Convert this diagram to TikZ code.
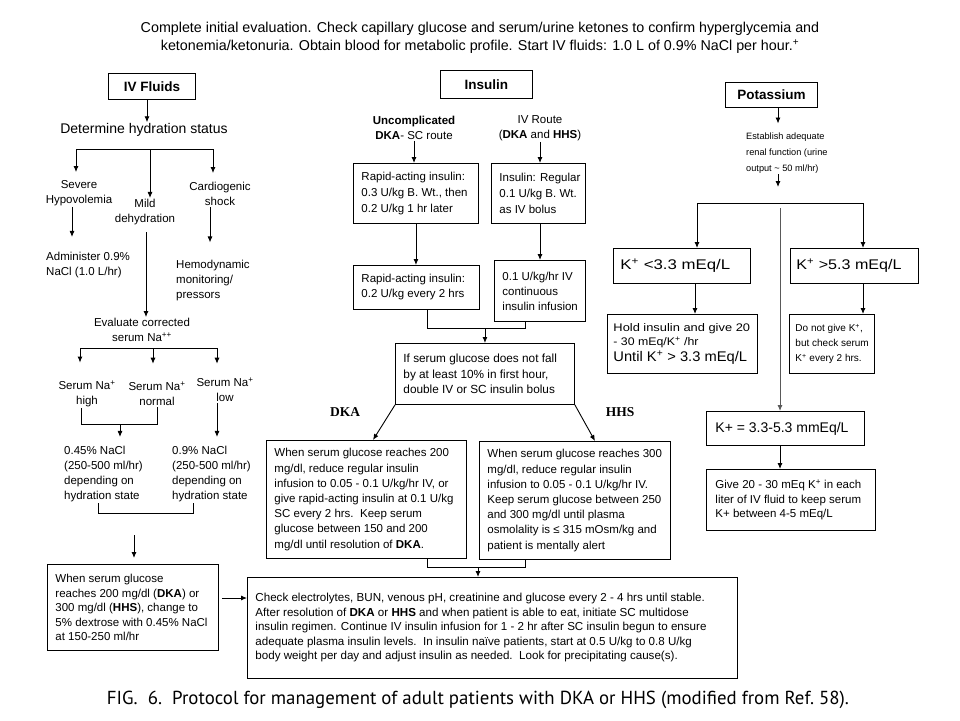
\documentclass[tikz,border=0pt]{standalone}
\usepackage{graphicx}
\usepackage{fontspec}
\setmainfont{Liberation Sans}
\newfontfamily\serifb{Liberation Serif}
\newfontfamily\capfont{PT Sans}
\usetikzlibrary{arrows.meta}
\newcommand\bfs{\fontsize{11.5}{15}\selectfont}
\newcommand\bfsb{\fontsize{11.5}{16}\selectfont}
\newcommand\supplus{\textsuperscript{+}}
\newcommand\wl[2]{\makebox[#1pt][l]{#2}}
\begin{document}
\begin{tikzpicture}[x=1pt,y=-1pt,
 box/.style={draw, line width=0.9pt, anchor=north west, inner xsep=8pt, inner ysep=2pt, align=left, font=\bfs},
 hdr/.style={draw, line width=0.9pt, anchor=north west, inner sep=2pt, align=center, font=\fontsize{13.5}{16}\selectfont\bfseries},
 lbl/.style={inner sep=1pt, align=center, font=\bfs},
 ln/.style={line width=0.9pt},
 arr/.style={ln, -{Latex[length=6pt,width=5pt]}},
]
\fill[white] (0,0) rectangle (960,720);
\useasboundingbox (0,0) rectangle (960,720);

% header
\node[font=\fontsize{14.3}{18}\selectfont, align=center, inner sep=0pt] (head) at (480,38)
 {Complete initial evaluation. Check capillary glucose and serum/urine ketones to confirm hyperglycemia and\\
  ketonemia/ketonuria. Obtain blood for metabolic profile. Start IV fluids: 1.0 L of 0.9\% NaCl per hour.\supplus};

% column headers
\node[hdr, minimum width=87, minimum height=26] (ivf) at (108,73) {IV Fluids};
\node[hdr, minimum width=92, minimum height=28] (ins) at (440,70) {Insulin};
\node[hdr, minimum width=92, minimum height=25] (pot) at (725,82) {Potassium};

% ---------------- IV fluids column
\node[lbl, font=\fontsize{14}{17}\selectfont] (det) at (144,130) {Determine hydration status};
\coordinate (ia) at (147,0);
\draw[arr] (ivf.south -| ia) -- (det.north -| ia);
\coordinate (hb1) at (76,149); \coordinate (hb2) at (213,149); \coordinate (hbm) at (150,149);
\draw[ln] (hb1) -- (hb2);
\node[lbl] (sev) at (79,193) {Severe\\Hypovolemia};
\node[lbl] (mild) at (145,212) {Mild\\dehydration};
\node[lbl] (card) at (220,194) {Cardiogenic\\shock};
\draw[arr, shorten >=7pt] (hb1) -- (hb1 |- sev.north);
\draw[arr] (hbm) -- (hbm |- mild.north);
\draw[arr, shorten >=8pt] (hb2) -- (hb2 |- card.north);

\node[lbl, align=left, anchor=west] (adm) at (45,265) {Administer 0.9\%\\NaCl (1.0 L/hr)};
\node[lbl, align=left, anchor=west] (hemo) at (175,281) {Hemodynamic\\monitoring/\\pressors};
\coordinate (sa) at (72,0); \coordinate (ca) at (210,0); \coordinate (ma) at (146,0);
\draw[arr, shorten >=14pt] (sev.south -| sa) -- (adm.north -| sa);
\draw[arr, shorten >=17pt] (card.south -| ca) -- (hemo.north -| ca);

\node[lbl] (eval) at (142,330) {Evaluate corrected\\serum Na\textsuperscript{++}};
\draw[arr, shorten <=6pt] (mild.south -| ma) -- (eval.north -| ma);

\coordinate (nb1) at (80,348); \coordinate (nb2) at (217,348); \coordinate (nbm) at (153,348);
\draw[ln] (nb1) -- (nb2);
\node[lbl] (nah) at (87,394) {Serum Na\supplus\\high};
\node[lbl] (nan) at (157,394) {Serum Na\supplus\\normal};
\node[lbl] (nal) at (225,390) {Serum Na\supplus\\low};
\draw[arr, shorten >=17pt] (nb1) -- (nb1 |- nah.north);
\draw[arr, shorten >=17pt] (nbm) -- (nbm |- nan.north);
\draw[arr, shorten >=13pt] (nb2) -- (nb2 |- nal.north);

\node[lbl, align=left, anchor=west] (n045) at (63,474) {0.45\% NaCl\\(250-500 ml/hr)\\depending on\\hydration state};
\node[lbl, align=left, anchor=west] (n09) at (171,474) {0.9\% NaCl\\(250-500 ml/hr)\\depending on\\hydration state};
\coordinate (k1) at (81,424); \coordinate (k2) at (157,424); \coordinate (k3) at (120,424);
\draw[ln] (k1 |- nah.south) -- (k1) -- (k2) -- (k2 |- nan.south);
\draw[arr, shorten >=8pt] (k3) -- (k3 |- n045.north);
\draw[arr, shorten >=8pt] (nal.south -| nb2) -- (n09.north -| nb2);
\coordinate (m1) at (98,513); \coordinate (m2) at (193,513);
\draw[ln] (m1 |- n045.south) -- (m1) -- (m2) -- (m2 |- n09.south);

\node[box, font=\fontsize{11.5}{14.5}\selectfont, minimum height=86] (leftbot) at (47,564)
 {\wl{155}{When serum glucose}\\reaches 200 mg/dl (\textbf{DKA}) or\\300 mg/dl (\textbf{HHS}), change to\\5\% dextrose with 0.45\% NaCl\\at 150-250 ml/hr};
\coordinate (q) at (134,535);
\draw[arr, shorten >=6pt] (q) -- (q |- leftbot.north);

% ---------------- Insulin column
\node[lbl] (unc) at (414,128) {\textbf{Uncomplicated}\\\textbf{DKA}- SC route};
\node[lbl] (ivr) at (540,128) {IV Route\\(\textbf{DKA} and \textbf{HHS})};
\node[box, font=\bfsb, minimum height=60] (rapid1) at (353,163)
 {\wl{109}{Rapid-acting insulin:}\\0.3 U/kg B. Wt., then\\0.2 U/kg 1 hr later};
\node[box, font=\bfsb, minimum height=60] (reg) at (491,163)
 {\wl{78}{Insulin: Regular}\\0.1 U/kg B. Wt.\\as IV bolus};
\node[box, font=\bfs, minimum height=44] (rapid2) at (353,265)
 {\wl{110}{Rapid-acting insulin:}\\0.2 U/kg every 2 hrs};
\node[box, font=\bfs, minimum height=61] (cont) at (494,260)
 {\wl{74}{0.1 U/kg/hr IV}\\continuous\\insulin infusion};
\draw[arr] (unc.south) -- (unc.south |- rapid1.north);
\draw[arr] (rapid1.south) -- (rapid1.south |- rapid2.north);
\draw[arr] (ivr.south) -- (ivr.south |- reg.north);
\draw[arr] (reg.south -| ivr.south) -- (cont.north -| ivr.south);

\node[box, font=\fontsize{11.8}{15.5}\selectfont, minimum height=61] (ifbox) at (395,343)
 {\wl{163}{If serum glucose does not fall}\\by at least 10\% in first hour,\\double IV or SC insulin bolus};
\coordinate (g1) at (427,328); \coordinate (g2) at (525,328);
\draw[ln] (g1 |- rapid2.south) -- (g1) -- (g2) -- (g2 |- cont.south);
\draw[arr] (ifbox.north |- g1) -- (ifbox.north);

\node[font=\serifb\fontsize{13.5}{16}\selectfont\bfseries] (ldka) at (345,412) {DKA};
\node[font=\serifb\fontsize{13.5}{16}\selectfont\bfseries] (lhhs) at (620,412) {HHS};

\node[box, font=\fontsize{11.5}{15.2}\selectfont, minimum height=118] (dka) at (266,440)
 {\wl{184}{When serum glucose reaches 200}\\mg/dl, reduce regular insulin\\infusion to 0.05 - 0.1 U/kg/hr IV, or\\give rapid-acting insulin at 0.1 U/kg\\SC every 2 hrs.\ \ Keep serum\\glucose between 150 and 200\\mg/dl until resolution of \textbf{DKA}.};
\node[box, font=\fontsize{11.5}{15.2}\selectfont, minimum height=118] (hhs) at (479,441)
 {\wl{175}{When serum glucose reaches 300}\\mg/dl, reduce regular insulin\\infusion to 0.05 - 0.1 U/kg/hr IV.\\Keep serum glucose between 250\\and 300 mg/dl until plasma\\osmolality is ≤ 315 mOsm/kg and\\patient is mentally alert};
\coordinate (d2) at (373,0); \coordinate (h2) at (595,0);
\draw[arr] (ifbox.south west) -- (dka.north -| d2);
\draw[arr] (ifbox.south east) -- (hhs.north -| h2);

\node[box, font=\fontsize{11.6}{14.5}\selectfont, minimum height=101] (bot) at (247,577)
 {\wl{474}{Check electrolytes, BUN, venous pH, creatinine and glucose every 2 - 4 hrs until stable.}\\
  After resolution of \textbf{DKA} or \textbf{HHS} and when patient is able to eat, initiate SC multidose\\
  insulin regimen. Continue IV insulin infusion for 1 - 2 hr after SC insulin begun to ensure\\
  adequate plasma insulin levels.\ \ In insulin naïve patients, start at 0.5 U/kg to 0.8 U/kg\\
  body weight per day and adjust insulin as needed.\ \ Look for precipitating cause(s).};
\coordinate (e1) at (427,567); \coordinate (e2) at (525,567); \coordinate (e3) at (478,567);
\draw[ln] (e1 |- dka.south) -- (e1) -- (e2) -- (e2 |- hhs.south);
\draw[arr] (e3) -- (e3 |- bot.north);
\coordinate (f) at (0,598);
\draw[arr, shorten <=3pt] (leftbot.east |- f) -- (bot.west |- f);

% ---------------- Potassium column
\node[lbl, align=left, anchor=west, font=\fontsize{9.2}{16}\selectfont] (est) at (745,153)
 {Establish adequate\\renal function (urine\\output \textasciitilde\ 50 ml/hr)};
\coordinate (pa) at (778,0); \coordinate (pe) at (778,187);
\draw[arr, shorten >=8pt] (pot.south -| pa) -- (est.north -| pa);
\draw[arr] (est.south -| pe) -- (pe);
\coordinate (pb1) at (697,203); \coordinate (pb2) at (863,203); \coordinate (pm) at (780,208);
\draw[ln] (pb1) -- (pb2);

\node[box, font=\fontsize{14}{16}\selectfont, inner xsep=7pt, minimum height=35] (kl) at (613,248)
 {\wl{123}{\scalebox{1.2}[1]{K\supplus\ <3.3 mEq/L}}};
\node[box, font=\fontsize{14}{16}\selectfont, inner xsep=6pt, minimum height=35] (kh) at (790,248)
 {\wl{116}{\scalebox{1.15}[1]{K\supplus\ >5.3 mEq/L}}};
\draw[arr] (pb1) -- (pb1 |- kl.north);
\draw[arr] (pb2) -- (pb2 |- kh.north);

\node[box, font=\fontsize{11}{14}\selectfont, inner xsep=6pt, minimum height=59] (hold) at (607,314)
 {\wl{138}{\scalebox{1.17}[1]{Hold insulin and give 20}}\\\scalebox{1.12}[1]{- 30 mEq/K\supplus\ /hr}\\[1.5pt]{\fontsize{14}{14}\selectfont\scalebox{1.05}[1]{Until K\supplus\ > 3.3 mEq/L}}};
\node[box, font=\fontsize{10}{15}\selectfont, inner xsep=6pt, minimum height=59] (dng) at (789,314)
 {\wl{71}{Do not give K\supplus,}\\but check serum\\K\supplus\ every 2 hrs.};
\coordinate (c1) at (695,0);
\draw[arr] (kl.south -| c1) -- (hold.north -| c1);
\draw[arr] (kh.south -| pb2) -- (dng.north -| pb2);

\node[box, font=\fontsize{14}{16}\selectfont, inner xsep=9pt, minimum height=34] (kmid) at (706,411)
 {\wl{140}{K+ = 3.3-5.3 mmEq/L}};
\node[box, font=\fontsize{11.5}{14.5}\selectfont, inner xsep=9pt, minimum height=61] (give) at (706,469)
 {\wl{151}{Give 20 - 30 mEq K\supplus\ in each}\\liter of IV fluid to keep serum\\K+ between 4-5 mEq/L};
\draw[arr, black!65] (pm) -- (pm |- kmid.north);
\draw[arr] (kmid.south -| pm) -- (give.north -| pm);

% caption
\node[inner sep=0pt] (cap) at (478,700)
 {\resizebox{742pt}{!}{\capfont\fontsize{16}{18}\selectfont FIG.\ \ 6.\ \ Protocol for management of adult patients with DKA or HHS (modified from Ref.~58).}};
\end{tikzpicture}
\end{document}
